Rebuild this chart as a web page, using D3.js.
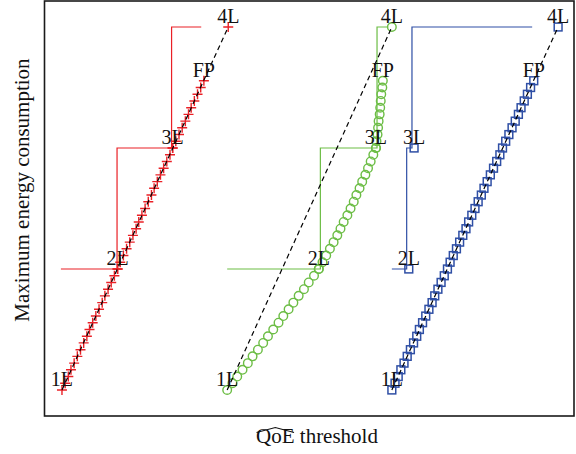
<!DOCTYPE html>
<html>
<head>
<meta charset="utf-8">
<script src="https://cdn.jsdelivr.net/npm/d3@7"></script>
<style>
  body { margin: 0; background: #fff; }
  text { font-family: "Liberation Serif", "DejaVu Serif", serif; fill: #111; }
</style>
</head>
<body>
<svg width="576" height="454"></svg>
<script>
// energy level of each point along the trails (1L = 1 ... 4L = 4)
var energy = [1.000, 1.056, 1.111, 1.167, 1.222, 1.278, 1.333, 1.389, 1.444, 1.500,
              1.556, 1.611, 1.667, 1.722, 1.778, 1.833, 1.889, 1.944, 2.000, 2.056,
              2.111, 2.167, 2.222, 2.278, 2.333, 2.389, 2.444, 2.500, 2.556, 2.611,
              2.667, 2.722, 2.778, 2.833, 2.889, 2.944, 3.000, 3.056, 3.111, 3.167,
              3.222, 3.278, 3.333, 3.389, 3.444, 3.500, 3.556];

// QoE threshold of each trail point, per scheme
var redX = [3.3, 3.9, 4.5, 5.0, 5.6, 6.2, 6.8, 7.4, 8.0, 8.5,
            9.1, 9.7, 10.3, 10.9, 11.4, 12.0, 12.6, 13.2, 13.8, 14.3,
            14.9, 15.5, 16.1, 16.7, 17.3, 17.8, 18.4, 19.0, 19.6, 20.2,
            20.7, 21.3, 21.9, 22.5, 23.1, 23.7, 24.2, 24.8, 25.4, 26.0,
            26.6, 27.2, 27.7, 28.3, 28.9, 29.5, 30.1];
var greenX = [34.5, 35.5, 36.4, 37.4, 38.4, 39.3, 40.3, 41.3, 42.2, 43.2,
              44.2, 45.1, 46.1, 47.0, 48.0, 49.0, 49.9, 50.9, 51.8, 52.5,
              53.2, 53.9, 54.6, 55.3, 55.9, 56.5, 57.2, 57.8, 58.4, 58.9,
              59.5, 60.0, 60.6, 61.1, 61.6, 62.1, 62.6, 62.7, 62.9, 63.0,
              63.1, 63.3, 63.4, 63.5, 63.6, 63.8, 63.9];
var blueX = [65.6, 66.2, 66.8, 67.3, 67.9, 68.5, 69.1, 69.7, 70.3, 70.8,
             71.4, 72.0, 72.6, 73.2, 73.7, 74.3, 74.9, 75.5, 76.1, 76.6,
             77.2, 77.8, 78.4, 79.0, 79.6, 80.1, 80.7, 81.3, 81.9, 82.5,
             83.0, 83.6, 84.2, 84.8, 85.4, 86.0, 86.5, 87.1, 87.7, 88.3,
             88.9, 89.5, 90.0, 90.6, 91.2, 91.8, 92.4];

// labelled points 1L, 2L, 3L, FP, 4L
var keyLabels = ["1L", "2L", "3L", "FP", "4L"];
var keyE = [1, 2, 3, 3.556, 4];
var redKeyX = [3.3, 13.8, 24.2, 30.1, 34.7];
var greenKeyX = [34.5, 51.8, 62.6, 63.9, 65.6];
var blueKeyX = [65.6, 68.8, 69.8, 92.4, 97.0];

// staircase: start, 2L step, 3L step, end  (levels 2, 3, 4)
var stepE = [2, 3, 4];
var redStepX = [3.1, 13.7, 24.0, 29.6];
var greenStepX = [34.5, 52.1, 62.8, 64.9];
var blueStepX = [65.6, 68.4, 69.4, 92.1];

var svg = d3.select("svg");

var x = d3.scaleLinear().domain([0, 100]).range([44.5, 574]);
var y = d3.scaleLinear().domain([0.785, 4.215]).range([416, 1]);

var series = [
  {color: "#ea2026", shape: "plus",   trail: redX,   key: redKeyX,   step: redStepX},
  {color: "#6cbd45", shape: "circle", trail: greenX, key: greenKeyX, step: greenStepX},
  {color: "#2f4fa5", shape: "square", trail: blueX,  key: blueKeyX,  step: blueStepX}
];

var line = d3.line().x(function(d){ return x(d[0]); }).y(function(d){ return y(d[1]); });

function marker(g, shape, color, px, py) {
  if (shape == "plus") {
    g.append("path").attr("d", "M" + (px - 5) + "," + py + "h10M" + px + "," + (py - 5) + "v10")
      .attr("stroke", color).attr("stroke-width", 1.4).attr("fill", "none");
  } else if (shape == "circle") {
    g.append("circle").attr("cx", px).attr("cy", py).attr("r", 4.3)
      .attr("stroke", color).attr("stroke-width", 1.4).attr("fill", "none");
  } else {
    g.append("rect").attr("x", px - 3.9).attr("y", py - 3.9).attr("width", 7.8).attr("height", 7.8)
      .attr("stroke", color).attr("stroke-width", 1.5).attr("fill", "none");
  }
}

series.forEach(function(s) {
  var g = svg.append("g");
  var st = s.step;
  var pts = [[st[0], stepE[0]], [st[1], stepE[0]], [st[1], stepE[1]],
             [st[2], stepE[1]], [st[2], stepE[2]], [st[3], stepE[2]]];
  g.append("path").attr("d", line(pts))
    .attr("fill", "none").attr("stroke", s.color).attr("stroke-width", 1.2);

  s.trail.forEach(function(v, i) { marker(g, s.shape, s.color, x(v), y(energy[i])); });
  [1, 2, 4].forEach(function(i) { marker(g, s.shape, s.color, x(s.key[i]), y(keyE[i])); });

  g.append("path").attr("d", line([[s.key[0], keyE[0]], [s.key[4], keyE[4]]]))
    .attr("fill", "none").attr("stroke", "#000").attr("stroke-width", 1.2)
    .attr("stroke-dasharray", "5,3.5");

  keyLabels.forEach(function(lab, i) {
    g.append("text").attr("x", x(s.key[i])).attr("y", y(keyE[i]) - 4)
      .attr("text-anchor", "middle").attr("font-size", 20).text(lab);
  });
});

// frame
svg.append("rect").attr("x", 44.5).attr("y", 1).attr("width", 529.5).attr("height", 415)
  .attr("fill", "none").attr("stroke", "#1a1a1a").attr("stroke-width", 1.6);

// axis titles
var xl = svg.append("text").attr("x", 317).attr("y", 443).attr("text-anchor", "middle")
  .attr("font-size", 21);
var q = xl.append("tspan").text("QoE");
xl.append("tspan").text(" threshold");
var b = q.node().getBBox();
svg.append("path")
  .attr("d", "M" + (b.x + 0.5) + "," + 432.5 + "L" + (b.x + b.width / 2) + "," + 427.5 + "L" + (b.x + b.width - 0.5) + "," + 432.5)
  .attr("fill", "none").attr("stroke", "#111").attr("stroke-width", 1.1);

svg.append("text").attr("transform", "translate(29,190) rotate(-90)")
  .attr("text-anchor", "middle").attr("font-size", 21).text("Maximum energy consumption");
</script>
</body>
</html>
